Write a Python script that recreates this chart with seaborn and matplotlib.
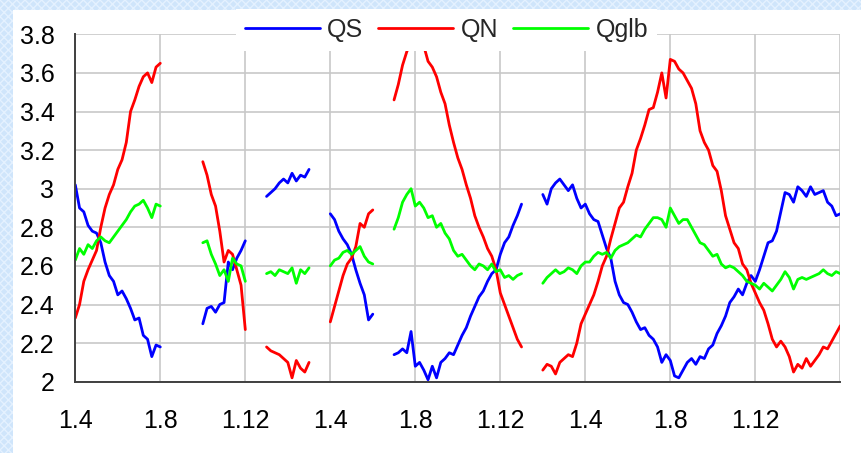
import numpy as np
import pandas as pd
import matplotlib
matplotlib.use("Agg")
import matplotlib.pyplot as plt
import seaborn as sns
from matplotlib.lines import Line2D
from matplotlib.patches import Rectangle

# one point every 1/20 of a label interval, None = no data
step = 0.05

qs = ([3.02, 2.90, 2.88, 2.81, 2.78, 2.77, 2.72, 2.62, 2.55, 2.52, 2.45, 2.47, 2.43, 2.38, 2.32, 2.33, 2.24, 2.22, 2.13, 2.19, 2.18]
      + [None] * 9
      + [2.30, 2.38, 2.39, 2.36, 2.40, 2.41, 2.62, 2.58, 2.64, 2.68, 2.73]
      + [None] * 4
      + [2.96, 2.98, 3.00, 3.03, 3.05, 3.03, 3.08, 3.04, 3.07, 3.06, 3.10]
      + [None] * 4
      + [2.87, 2.84, 2.78, 2.74, 2.71, 2.66, 2.58, 2.51, 2.45, 2.32, 2.35]
      + [None] * 4
      + [2.14, 2.15, 2.17, 2.15, 2.26, 2.08, 2.10, 2.06, 2.01, 2.08, 2.02, 2.10, 2.12, 2.15, 2.14, 2.19,
         2.24, 2.28, 2.34, 2.39, 2.44, 2.47, 2.52, 2.56, 2.58, 2.66, 2.72, 2.75, 2.81, 2.86, 2.92]
      + [None] * 4
      + [2.97, 2.92, 3.00, 3.03, 3.05, 3.02, 2.99, 3.02, 2.95, 2.90, 2.92, 2.87, 2.84, 2.83, 2.76, 2.69, 2.64,
         2.52, 2.45, 2.41, 2.40, 2.36, 2.31, 2.27, 2.28, 2.24, 2.22, 2.18, 2.10, 2.14, 2.11, 2.03, 2.02, 2.06,
         2.10, 2.12, 2.09, 2.13, 2.12, 2.17, 2.19, 2.25, 2.29, 2.34, 2.41, 2.44, 2.48, 2.45, 2.51, 2.55, 2.52,
         2.58, 2.65, 2.72, 2.73, 2.78, 2.88, 2.98, 2.97, 2.93, 3.01, 2.99, 2.96, 3.01, 2.97, 2.98, 2.99, 2.93,
         2.91, 2.86, 2.87])

qn = ([2.33, 2.40, 2.52, 2.58, 2.63, 2.68, 2.80, 2.90, 2.97, 3.02, 3.10, 3.15, 3.24, 3.40, 3.46, 3.53, 3.58, 3.60, 3.55, 3.63, 3.65]
      + [None] * 9
      + [3.14, 3.07, 2.97, 2.91, 2.78, 2.62, 2.68, 2.66, 2.58, 2.50, 2.27]
      + [None] * 4
      + [2.18, 2.16, 2.15, 2.14, 2.12, 2.10, 2.02, 2.11, 2.07, 2.05, 2.10]
      + [None] * 4
      + [2.31, 2.39, 2.47, 2.55, 2.61, 2.64, 2.70, 2.82, 2.80, 2.87, 2.89]
      + [None] * 4
      + [3.46, 3.54, 3.64, 3.71, 3.76, 3.79, 3.78, 3.74, 3.66, 3.63, 3.58, 3.50, 3.44, 3.33, 3.24, 3.16,
         3.10, 3.02, 2.95, 2.86, 2.80, 2.75, 2.69, 2.65, 2.58, 2.46, 2.40, 2.34, 2.28, 2.22, 2.18]
      + [None] * 4
      + [2.06, 2.09, 2.08, 2.04, 2.10, 2.12, 2.14, 2.13, 2.20, 2.30, 2.35, 2.40, 2.45, 2.52, 2.60, 2.65, 2.74,
         2.82, 2.90, 2.93, 3.01, 3.08, 3.20, 3.26, 3.33, 3.41, 3.42, 3.50, 3.60, 3.47, 3.67, 3.66, 3.62, 3.60,
         3.56, 3.52, 3.44, 3.30, 3.24, 3.20, 3.12, 3.09, 2.99, 2.86, 2.79, 2.72, 2.69, 2.61, 2.58, 2.51, 2.46,
         2.41, 2.37, 2.30, 2.22, 2.18, 2.21, 2.18, 2.13, 2.05, 2.09, 2.07, 2.12, 2.08, 2.11, 2.14, 2.18, 2.17,
         2.21, 2.25, 2.29])

qglb = ([2.63, 2.69, 2.66, 2.71, 2.69, 2.73, 2.75, 2.73, 2.72, 2.75, 2.78, 2.81, 2.84, 2.88, 2.91, 2.92, 2.94, 2.90, 2.85, 2.92, 2.91]
        + [None] * 9
        + [2.72, 2.73, 2.66, 2.61, 2.55, 2.58, 2.52, 2.64, 2.61, 2.60, 2.52]
        + [None] * 4
        + [2.56, 2.57, 2.55, 2.58, 2.57, 2.56, 2.59, 2.51, 2.58, 2.56, 2.59]
        + [None] * 4
        + [2.60, 2.63, 2.64, 2.67, 2.68, 2.66, 2.68, 2.70, 2.65, 2.62, 2.61]
        + [None] * 4
        + [2.79, 2.85, 2.93, 2.97, 3.00, 2.91, 2.93, 2.90, 2.85, 2.86, 2.80, 2.82, 2.77, 2.74, 2.68, 2.65,
           2.66, 2.63, 2.60, 2.58, 2.61, 2.60, 2.58, 2.61, 2.57, 2.58, 2.54, 2.55, 2.53, 2.55, 2.56]
        + [None] * 4
        + [2.51, 2.54, 2.56, 2.58, 2.56, 2.57, 2.59, 2.58, 2.56, 2.60, 2.62, 2.62, 2.65, 2.67, 2.66, 2.67, 2.64,
           2.68, 2.70, 2.71, 2.72, 2.74, 2.76, 2.75, 2.79, 2.82, 2.85, 2.85, 2.84, 2.80, 2.90, 2.86, 2.82, 2.84,
           2.84, 2.80, 2.76, 2.72, 2.71, 2.68, 2.65, 2.66, 2.61, 2.59, 2.60, 2.59, 2.57, 2.55, 2.52, 2.51, 2.50,
           2.48, 2.51, 2.49, 2.47, 2.50, 2.53, 2.57, 2.54, 2.48, 2.53, 2.54, 2.53, 2.54, 2.55, 2.56, 2.58, 2.56,
           2.55, 2.57, 2.56])

series_names = ["QS", "QN", "Qglb"]
series_colors = ["#0000ff", "#ff0000", "#00ff00"]
tick_labels = ["1.4", "1.8", "1.12"] * 3 + [""]
y_ticks = [2.0, 2.2, 2.4, 2.6, 2.8, 3.0, 3.2, 3.4, 3.6, 3.8]

# long table, a new unit for every unbroken stretch
rows = []
seg = 0
for name, vals in zip(series_names, [qs, qn, qglb]):
    prev = None
    for i, v in enumerate(vals):
        if v is None:
            prev = None
            continue
        if prev is None:
            seg += 1
        rows.append({"x": i * step, "value": v, "series": name, "seg": seg})
        prev = v
df = pd.DataFrame(rows)

sns.set_style("white")
plt.rcParams["font.family"] = ["Liberation Sans", "DejaVu Sans"]

W, H = 861, 453
fig = plt.figure(figsize=(W / 100, H / 100), dpi=100, facecolor="#cfe5fb")
fig.patches.append(Rectangle((0, 0), 1, 1, transform=fig.transFigure, facecolor="#cfe5fb",
                             edgecolor="#e4f1ff", hatch="xxxx", lw=0, zorder=-2))
fig.patches.append(Rectangle((13 / W, 0), 1, 1 - 10 / H, transform=fig.transFigure,
                             facecolor="white", edgecolor="none", zorder=-1))

ax = fig.add_axes([75.3 / W, (H - 381.7) / H, 765 / W, 347.4 / H])
ax.set_facecolor("none")

sns.lineplot(data=df, x="x", y="value", hue="series", units="seg", estimator=None,
             palette=dict(zip(series_names, series_colors)), hue_order=series_names,
             lw=2.0, sort=False, legend=False, ax=ax)

ax.set_xlim(0, 9)
ax.set_ylim(2, 3.8)
ax.set_xticks(range(10))
ax.set_xticklabels(tick_labels)
ax.set_yticks(y_ticks)
ax.set_yticklabels([f"{v:g}" for v in y_ticks])
ax.set_xlabel("")
ax.set_ylabel("")
ax.grid(True, color="#c8c8c8", lw=1.2)
ax.set_axisbelow(True)
for s in ["top", "right"]:
    ax.spines[s].set_visible(False)
for s in ["left", "bottom"]:
    ax.spines[s].set_color("#404040")
    ax.spines[s].set_linewidth(1.4)
ax.tick_params(axis="both", direction="out", length=6, width=1.2, color="#404040",
               labelsize=18, labelcolor="black")
ax.tick_params(axis="y", pad=9)
ax.tick_params(axis="x", pad=14)

handles = [Line2D([], [], color=c, lw=2.0) for c in series_colors]
leg = ax.legend(handles, series_names, loc="center", bbox_to_anchor=(446.5 / W, 1 - 30 / H),
                bbox_transform=fig.transFigure, ncol=3, frameon=True, facecolor="white",
                edgecolor="none", fancybox=False, framealpha=1, fontsize=18, handlelength=3,
                handletextpad=0.3, columnspacing=0.6, borderpad=0.35)

fig.savefig("out.png", dpi=100)
